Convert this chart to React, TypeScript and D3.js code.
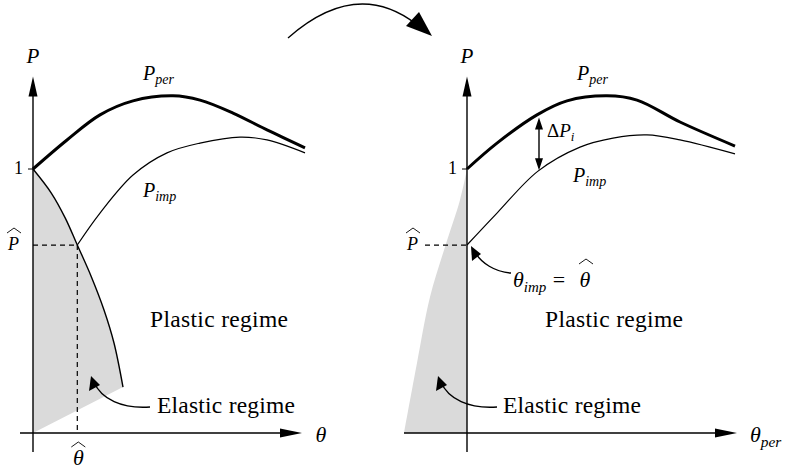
import React from "react";
import * as d3 from "d3";

// Normalised load P against rotation θ; θ = 0 sits on the vertical axis.
const P_HAT = 0.712;
const THETA_HAT = 0.443;

// Left panel: perfect and imperfect responses plus the elastic limit curve
const perLeft: [number, number][] = [
  [0, 1], [0.34, 1.11], [0.67, 1.205], [1.0, 1.258], [1.4, 1.277],
  [1.67, 1.261], [2.0, 1.212], [2.34, 1.148], [2.72, 1.08],
];
const impLeft: [number, number][] = [
  [0.443, 0.712], [0.67, 0.833], [1.0, 0.977], [1.34, 1.061], [1.67, 1.098],
  [2.07, 1.121], [2.34, 1.11], [2.72, 1.061],
];
const elasticLeft: [number, number][] = [
  [0, 1], [0.183, 0.909], [0.323, 0.814], [0.443, 0.712], [0.583, 0.592],
  [0.71, 0.466], [0.81, 0.341], [0.9, 0.174],
];

// Right panel: responses re-plotted against θ_per
const perRight: [number, number][] = [
  [0, 1], [0.3, 1.098], [0.7, 1.205], [1.0, 1.258], [1.4, 1.277],
  [1.7, 1.261], [2.13, 1.178], [2.68, 1.087],
];
const impRight: [number, number][] = [
  [0, 0.712], [0.3, 0.833], [0.71, 0.992], [1.13, 1.083], [1.46, 1.117],
  [1.8, 1.129], [2.13, 1.11], [2.68, 1.057],
];
const elasticRight: [number, number][] = [
  [0, 1], [-0.07, 0.883], [-0.22, 0.705], [-0.37, 0.515], [-0.5, 0.265], [-0.63, 0],
];
const DELTA_THETA = 0.72;
const DELTA_RANGE: [number, number] = [1.195, 0.995];

const W = 785;
const H = 469;
const GREY = "#dadada";
const SERIF_STYLE = { fontFamily: '"Liberation Serif", "DejaVu Serif", "Times New Roman", serif' };

const y = d3.scaleLinear().domain([0, 1]).range([433, 169]);
const xL = d3.scaleLinear().domain([0, 1]).range([33, 133]);
const xR = d3.scaleLinear().domain([0, 1]).range([467, 567]);

function curve(xs: d3.ScaleLinear<number, number>, pts: [number, number][]) {
  return (
    d3
      .line<[number, number]>()
      .x((d) => xs(d[0]))
      .y((d) => y(d[1]))
      .curve(d3.curveCatmullRom.alpha(0.5))(pts) || ""
  );
}

function Hat({ cx, base }: { cx: number; base: number }) {
  return (
    <path
      d={`M${cx - 7},${base} L${cx},${base - 5} L${cx + 7},${base}`}
      fill="none"
      stroke="#000"
      strokeWidth={0.9}
    />
  );
}

function Sub({ x, yb, main, sub, size = 20 }: { x: number; yb: number; main: string; sub: string; size?: number }) {
  return (
    <text x={x} y={yb} fontStyle="italic" fontSize={size}>
      {main}
      <tspan fontSize={size * 0.7} dy={size * 0.22}>{sub}</tspan>
    </text>
  );
}

function Regime({ x, yb, label }: { x: number; yb: number; label: string }) {
  return (
    <text x={x} y={yb} fontSize={23.5} textLength={138} lengthAdjust="spacing">
      {label}
    </text>
  );
}

function Panel({ xs, per, imp, elasticPath, xMin, xMax, right }: any) {
  const x0 = xs(0);
  const yTop = y(1.35);
  const yBot = y(-0.072);
  const pHatEnd = right ? x0 - 49 : x0 - 14;
  return (
    <g>
      <path d={elasticPath} fill={GREY} stroke="none" />
      {/* axes */}
      <line x1={x0} x2={x0} y1={yBot} y2={yTop + 18} stroke="#000" strokeWidth={1.4} />
      <path d={`M${x0},${yTop} L${x0 - 4.5},${yTop + 20} L${x0 + 4.5},${yTop + 20} Z`} fill="#000" />
      <line x1={xs(xMin)} x2={xs(xMax) - 18} y1={y(0)} y2={y(0)} stroke="#000" strokeWidth={1.4} />
      <path
        d={`M${xs(xMax)},${y(0)} L${xs(xMax) - 22},${y(0) - 4.5} L${xs(xMax) - 22},${y(0) + 4.5} Z`}
        fill="#000"
      />
      {/* tick at P = 1 */}
      <line x1={x0 - 5} x2={x0} y1={y(1)} y2={y(1)} stroke="#000" strokeWidth={1} />
      {/* P-hat dashed guide */}
      <line
        x1={right ? x0 - 42 : x0}
        x2={right ? x0 : xs(THETA_HAT)}
        y1={y(P_HAT)}
        y2={y(P_HAT)}
        stroke="#000"
        strokeWidth={1.2}
        strokeDasharray="5,4"
      />
      {/* response curves */}
      <path d={curve(xs, imp)} fill="none" stroke="#000" strokeWidth={1.2} />
      <path d={curve(xs, per)} fill="none" stroke="#000" strokeWidth={3} />
      {/* axis labels */}
      <text x={x0} y={63} fontStyle="italic" fontSize={21} textAnchor="middle">P</text>
      <text x={x0 - 10} y={174} fontSize={18} textAnchor="end">1</text>
      <text x={pHatEnd} y={250} fontStyle="italic" fontSize={18} textAnchor="end">P</text>
      <Hat cx={pHatEnd - 5} base={233} />
    </g>
  );
}

export default function App() {
  const leftElastic =
    `M${xL(0)},${y(0)} L${xL(0.9)},${y(0.174)} ` +
    curve(xL, [...elasticLeft].reverse()).replace(/^M/, "L") +
    " Z";
  const rightElastic = curve(xR, elasticRight) + ` L${xR(0)},${y(0)} Z`;

  return (
    <svg
      width={W}
      height={H}
      viewBox={`0 0 ${W} ${H}`}
      style={{ position: "absolute", left: 0, top: 0, background: "#fff", ...SERIF_STYLE }}
    >
      <rect width={W} height={H} fill="#fff" />

      {/* ---------- left panel ---------- */}
      <Panel xs={xL} per={perLeft} imp={impLeft} elasticPath={leftElastic} xMin={-0.13} xMax={2.69} />
      <path d={curve(xL, elasticLeft)} fill="none" stroke="#000" strokeWidth={1.4} />
      <line
        x1={xL(THETA_HAT)}
        x2={xL(THETA_HAT)}
        y1={y(P_HAT)}
        y2={y(0)}
        stroke="#000"
        strokeWidth={1.2}
        strokeDasharray="5,4"
      />
      <text x={xL(2.88)} y={442} fontStyle="italic" fontSize={22} textAnchor="middle">θ</text>
      <text x={xL(THETA_HAT) + 1} y={465} fontStyle="italic" fontSize={22} textAnchor="middle">θ</text>
      <Hat cx={xL(THETA_HAT) + 1} base={447} />
      <Sub x={143} yb={80} main="P" sub="per" />
      <Sub x={143} yb={197} main="P" sub="imp" />
      <Regime x={150} yb={327} label="Plastic regime" />
      <Regime x={157} yb={413} label="Elastic regime" />
      <path d="M150,407 C122,409 101,399 94,382" fill="none" stroke="#000" strokeWidth={1.4} />
      <path d="M91,376 L89,391 L100,385 Z" fill="#000" />

      {/* ---------- right panel ---------- */}
      <Panel xs={xR} per={perRight} imp={impRight} elasticPath={rightElastic} xMin={-0.63} xMax={2.7} right />
      <Sub x={750} yb={442} main="θ" sub="per" size={22} />
      <Sub x={577} yb={80} main="P" sub="per" />
      <Sub x={573} yb={182} main="P" sub="imp" />
      {/* ΔP_i double arrow */}
      <line x1={xR(DELTA_THETA)} x2={xR(DELTA_THETA)} y1={y(DELTA_RANGE[0]) + 8} y2={y(DELTA_RANGE[1]) - 8} stroke="#000" strokeWidth={1.4} />
      <path
        d={`M${xR(DELTA_THETA)},${y(DELTA_RANGE[0])} l-4,12 l8,0 Z M${xR(DELTA_THETA)},${y(DELTA_RANGE[1])} l-4,-12 l8,0 Z`}
        fill="#000"
      />
      <text x={547} y={137} fontSize={19}>
        Δ<tspan fontStyle="italic">P</tspan>
        <tspan fontStyle="italic" fontSize={13} dy={4}>i</tspan>
      </text>
      <text x={513} y={287} fontStyle="italic" fontSize={22}>
        θ<tspan fontSize={15} dy={5}>imp</tspan>
      </text>
      <text x={559} y={287} fontSize={22} textAnchor="middle">=</text>
      <text x={585} y={287} fontStyle="italic" fontSize={22} textAnchor="middle">θ</text>
      <Hat cx={586} base={264} />
      <path d="M511,273 C495,272 481,263 475,252" fill="none" stroke="#000" strokeWidth={1.4} />
      <path d="M471,246 L472,261 L481,254 Z" fill="#000" />
      <Regime x={545} yb={327} label="Plastic regime" />
      <Regime x={503} yb={413} label="Elastic regime" />
      <path d="M497,407 C469,409 448,399 441,382" fill="none" stroke="#000" strokeWidth={1.4} />
      <path d="M438,376 L436,391 L447,385 Z" fill="#000" />

      {/* transition arrow between the panels */}
      <path d="M288,38 Q356,-22 416,24" fill="none" stroke="#000" strokeWidth={1.4} />
      <path d="M432,36 L406,26 L419,12 Z" fill="#000" />
    </svg>
  );
}
